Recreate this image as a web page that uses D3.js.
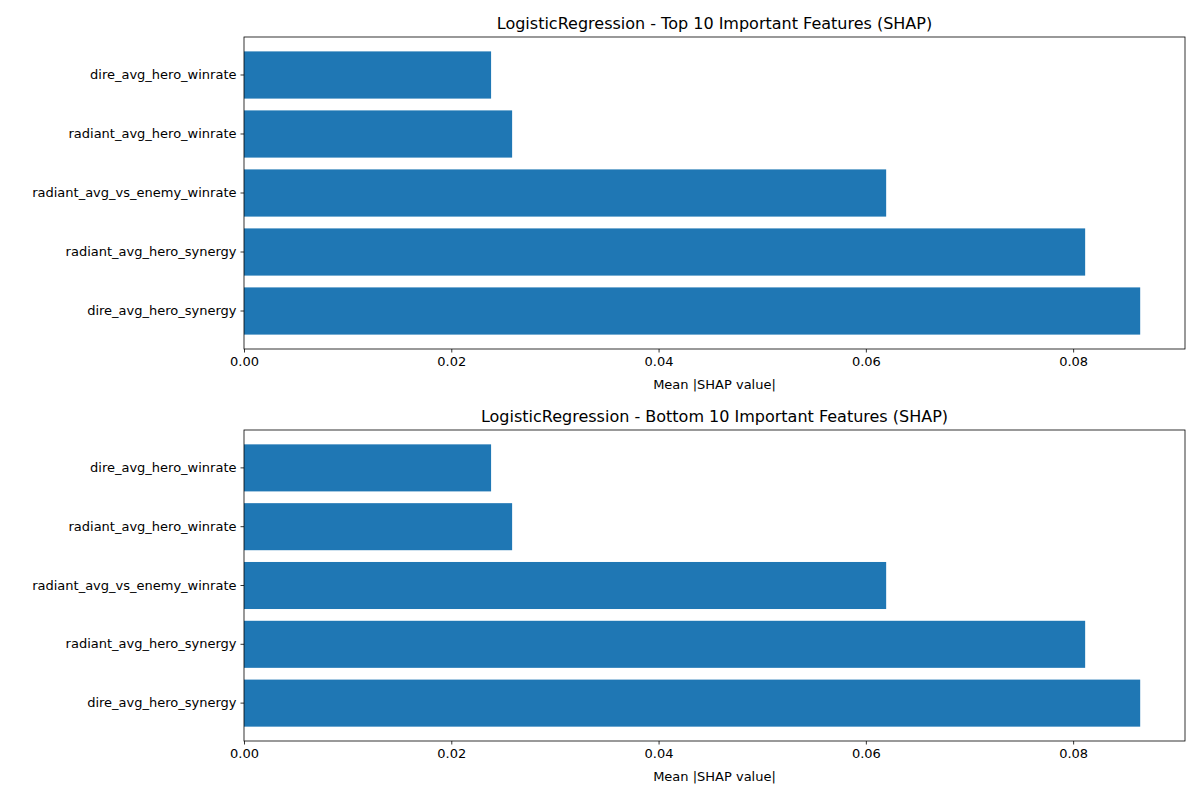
<!DOCTYPE html>
<html><head><meta charset="utf-8">
<script src="https://cdn.jsdelivr.net/npm/d3@7"></script>
<style>body{margin:0;background:#fff}text{font-family:"DejaVu Sans",sans-serif}</style>
</head><body><svg id="c" width="1200" height="800"></svg>
<script>
const features = ["dire_avg_hero_winrate","radiant_avg_hero_winrate","radiant_avg_vs_enemy_winrate","radiant_avg_hero_synergy","dire_avg_hero_synergy"];
const values = [0.02384,0.02587,0.06196,0.08116,0.08647];
const xTicks = [0,0.02,0.04,0.06,0.08];
const titles = ["LogisticRegression - Top 10 Important Features (SHAP)","LogisticRegression - Bottom 10 Important Features (SHAP)"];
const svg = d3.select("#c");
const L=244,R=1185;
const panels=[[37,349],[430,741]];
panels.forEach(([t,b],i)=>{
  const g=svg.append("g");
  const x=d3.scaleLinear().domain([0,d3.max(values)*1.05]).range([L,R]);
  const y=d3.scaleBand().domain(features).range([t,b]).paddingInner(0.2).paddingOuter(0.244);
  g.selectAll("rect").data(features).join("rect")
    .attr("x",x(0)).attr("y",d=>y(d)).attr("height",y.bandwidth())
    .attr("width",(d,j)=>x(values[j])-x(0)).attr("fill","#1f77b4");
  g.append("rect").attr("x",L).attr("y",t).attr("width",R-L).attr("height",b-t)
    .attr("fill","none").attr("stroke","#000").attr("stroke-width",0.8);
  const xa=g.append("g").attr("transform",`translate(0,${b})`)
    .call(d3.axisBottom(x).tickValues(xTicks).tickFormat(d3.format(".2f")).tickSize(3.5).tickPadding(4));
  const ya=g.append("g").attr("transform",`translate(${L},0)`)
    .call(d3.axisLeft(y).tickSize(3.5).tickPadding(4));
  [xa,ya].forEach(a=>{a.select(".domain").remove();a.selectAll("text").attr("font-size",13).attr("fill","#000").attr("font-family","DejaVu Sans");a.selectAll("line").attr("stroke","#000").attr("stroke-width",0.8);});
  g.append("text").attr("x",(L+R)/2).attr("y",b+40).attr("text-anchor","middle").attr("font-size",13).text("Mean |SHAP value|");
  g.append("text").attr("x",(L+R)/2).attr("y",t-8).attr("text-anchor","middle").attr("font-size",16).text(titles[i]);
});
</script></body></html>
